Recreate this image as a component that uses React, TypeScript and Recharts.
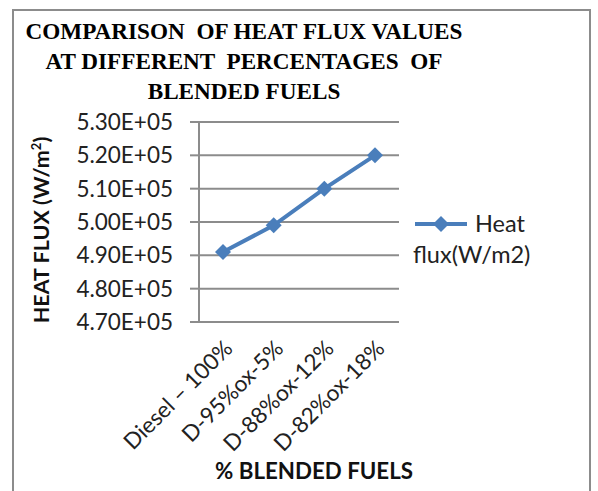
import { CartesianGrid, Line, LineChart, XAxis, YAxis } from 'recharts';

const categories = ['Diesel – 100%', 'D-95%ox-5%', 'D-88%ox-12%', 'D-82%ox-18%'];
const heatFlux = [491000, 499000, 510000, 520000];
const yTicks = [470000, 480000, 490000, 500000, 510000, 520000, 530000];
const titleLines = ['COMPARISON  OF HEAT FLUX VALUES', 'AT DIFFERENT  PERCENTAGES  OF', 'BLENDED FUELS'];
const seriesName = 'Heat flux(W/m2)';

const data = categories.map((name, i) => ({ name, flux: heatFlux[i] }));

const SANS = 'Lato, "Liberation Sans", sans-serif';
const BLUE = '#4a7ebb';
const GRID = '#8c8c8c';

function fmt(v: number): string {
  const exp = Math.floor(Math.log10(v));
  const mant = (v / Math.pow(10, exp)).toFixed(2);
  return `${mant}E+${String(exp).padStart(2, '0')}`;
}

function Diamond(props: any) {
  const { cx, cy } = props;
  if (cx == null || cy == null) return null;
  const r = 8;
  return <path d={`M${cx},${cy - r}L${cx + r},${cy}L${cx},${cy + r}L${cx - r},${cy}Z`} fill={BLUE} />;
}

function XTick(props: any) {
  const { x, y, payload } = props;
  return (
    <text
      transform={`translate(${x + 11},${y + 20}) rotate(-45)`}
      textAnchor='end'
      fontFamily={SANS}
      fontSize={22.5}
      fill='#222'
    >
      {payload.value}
    </text>
  );
}

export default function App() {
  return (
    <div style={{ position: 'absolute', left: 0, top: 0, width: 598, height: 491, background: '#fff', overflow: 'hidden' }}>
      <div style={{ position: 'absolute', left: 12, top: 9, width: 575, height: 520, border: `2px solid ${GRID}` }} />
      <div
        style={{
          position: 'absolute',
          left: 0,
          top: 16,
          width: 488,
          textAlign: 'center',
          fontFamily: '"Liberation Serif", serif',
          fontWeight: 'bold',
          fontSize: 23.2,
          lineHeight: '30px',
          whiteSpace: 'pre',
          color: '#000'
        }}
      >
        {titleLines.join('\n')}
      </div>
      <LineChart width={598} height={491} data={data} margin={{ top: 122, right: 199, bottom: 0, left: 0 }}>
        <CartesianGrid vertical={false} stroke={GRID} strokeWidth={2} />
        <XAxis
          dataKey='name'
          height={169}
          padding={{ left: 24, right: 24 }}
          axisLine={{ stroke: GRID, strokeWidth: 2 }}
          tickLine={false}
          interval={0}
          tick={<XTick />}
        />
        <YAxis
          width={199}
          domain={[470000, 530000]}
          ticks={yTicks}
          tickFormatter={fmt}
          tickSize={9}
          tickMargin={17}
          axisLine={{ stroke: GRID, strokeWidth: 2 }}
          tickLine={{ stroke: GRID, strokeWidth: 2 }}
          tick={{ fontFamily: SANS, fontSize: 22.5, fill: '#222' }}
        />
        <Line
          type='linear'
          dataKey='flux'
          name={seriesName}
          stroke={BLUE}
          strokeWidth={4}
          dot={<Diamond />}
          activeDot={false}
          isAnimationActive={false}
        />
      </LineChart>
      <div
        style={{
          position: 'absolute',
          left: 41,
          top: 230,
          transform: 'translate(-50%, -50%) rotate(-90deg)',
          fontFamily: SANS,
          fontWeight: 'bold',
          fontSize: 21.5,
          whiteSpace: 'nowrap',
          color: '#111'
        }}
      >
        HEAT FLUX (W/m<sup style={{ fontSize: 13 }}>2</sup>)
      </div>
      <div
        style={{
          position: 'absolute',
          left: 314,
          top: 470,
          transform: 'translate(-50%, -50%)',
          fontFamily: SANS,
          fontWeight: 'bold',
          fontSize: 22.3,
          whiteSpace: 'nowrap',
          color: '#111'
        }}
      >
        % BLENDED FUELS
      </div>
      <div style={{ position: 'absolute', left: 413, top: 208, fontFamily: SANS, fontSize: 23.5, lineHeight: '31px', color: '#222' }}>
        <div style={{ display: 'flex', alignItems: 'center' }}>
          <svg width={56} height={20}>
            <line x1={2} y1={10} x2={54} y2={10} stroke={BLUE} strokeWidth={4} />
            <path d='M28,2L36,10L28,18L20,10Z' fill={BLUE} />
          </svg>
          <span style={{ marginLeft: 6 }}>Heat</span>
        </div>
        <div>flux(W/m2)</div>
      </div>
    </div>
  );
}
